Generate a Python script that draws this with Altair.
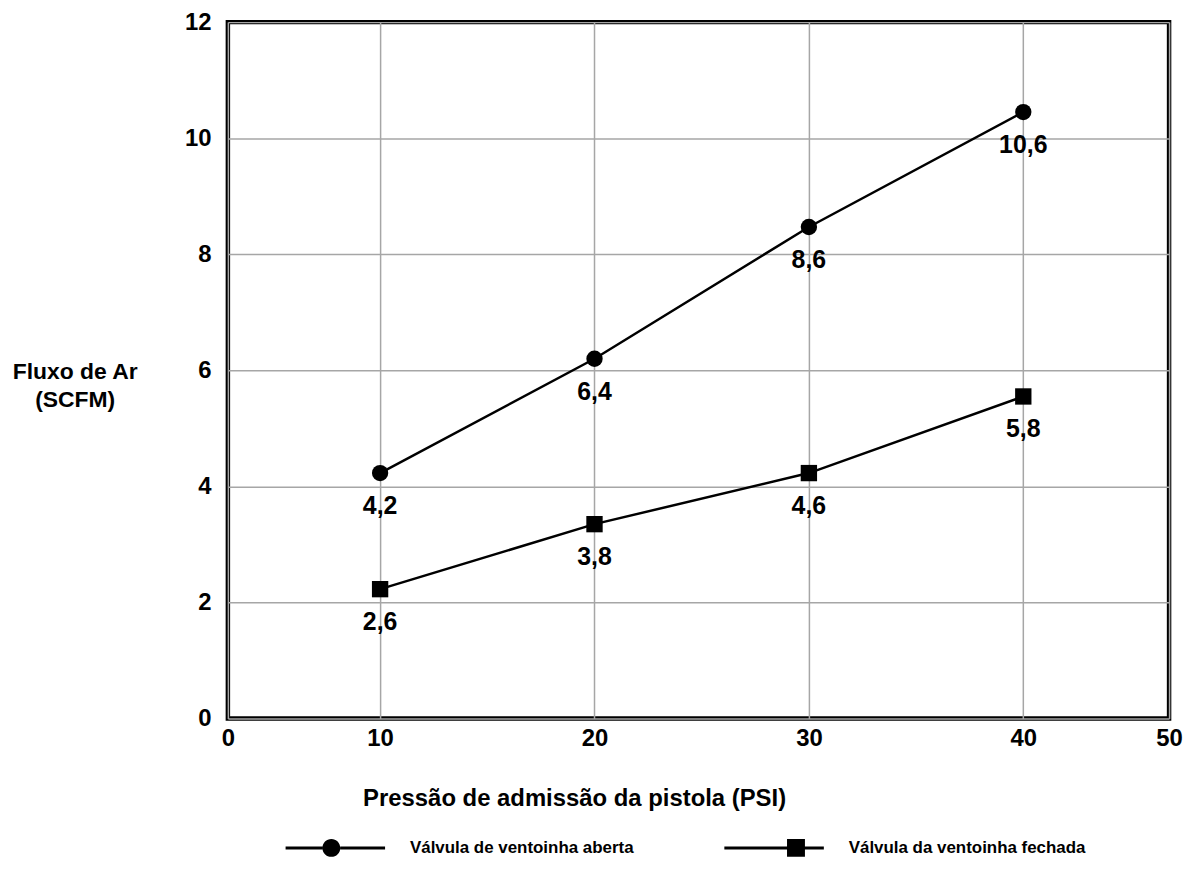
import altair as alt
import pandas as pd

# ---- data ----
pressao = [10, 20, 30, 40]
aberta_vals = [4.23, 6.2, 8.47, 10.45]
fechada_vals = [2.23, 3.35, 4.23, 5.55]
aberta_labels = ["4,2", "6,4", "8,6", "10,6"]
fechada_labels = ["2,6", "3,8", "4,6", "5,8"]
series_names = ["Válvula de ventoinha aberta", "Válvula da ventoinha fechada"]

x_tick_values = [2.9, 10, 20, 30, 40, 46.8]
x_tick_labels = ["0", "10", "20", "30", "40", "50"]
y_tick_values = [0, 2, 4, 6, 8, 10, 12]

x_title = "Pressão de admissão da pistola (PSI)"
y_title = ["Fluxo de Ar", "(SCFM)"]

rows = []
for s, vals, labs in [(series_names[0], aberta_vals, aberta_labels),
                      (series_names[1], fechada_vals, fechada_labels)]:
    for x, v, l in zip(pressao, vals, labs):
        rows.append({"pressao": x, "fluxo": v, "rotulo": l, "serie": s})
df = pd.DataFrame(rows)

FONT = "Liberation Sans"

label_expr = ""
for v, l in zip(x_tick_values, x_tick_labels):
    label_expr += f"datum.value == {v} ? '{l}' : "
label_expr += "datum.label"

x_enc = alt.X(
    "pressao:Q",
    scale=alt.Scale(domain=[x_tick_values[0], x_tick_values[-1]], nice=False, zero=False),
    axis=alt.Axis(
        values=x_tick_values, labelExpr=label_expr, labelFlush=False,
        grid=True, gridColor="#a6a6a6", gridWidth=1.5,
        domain=False, ticks=False,
        labelFontSize=24, labelFontWeight="bold", labelFont=FONT, labelColor="black",
        labelPadding=8,
        title=x_title, titleFontSize=24, titleFontWeight="bold", titleFont=FONT,
        titleColor="black", titleX=348, titleY=80, titleAlign="center",
        titleBaseline="middle", titleAnchor="start",
    ),
)
y_enc = alt.Y(
    "fluxo:Q",
    scale=alt.Scale(domain=[0, 12], nice=False),
    axis=alt.Axis(
        values=y_tick_values, format="d", grid=True, gridColor="#a6a6a6", gridWidth=1.5,
        domain=False, ticks=False,
        labelFontSize=24, labelFontWeight="bold", labelFont=FONT, labelColor="black",
        labelPadding=17,
        title=y_title, titleAngle=0, titleFontSize=23, titleFontWeight="bold",
        titleFont=FONT, titleColor="black", titleX=-154, titleY=351,
        titleAlign="center", titleBaseline="middle", titleLineHeight=28,
    ),
)

base = alt.Chart(df)

lines = base.mark_line(color="black", strokeWidth=2.5).encode(
    x=x_enc, y=y_enc, detail="serie:N"
)

points = base.mark_point(filled=True, color="black", opacity=1, size=270).encode(
    x="pressao:Q", y="fluxo:Q",
    shape=alt.Shape("serie:N", scale=alt.Scale(domain=series_names, range=["circle", "square"]),
                    legend=None),
)

labels = base.mark_text(dy=33, fontSize=25, fontWeight="bold", font=FONT, color="black").encode(
    x="pressao:Q", y="fluxo:Q", text="rotulo:N"
)

path_open = ("M-1,-0.03L-0.26,-0.03L-0.26,0.03L-1,0.03Z "
             "M0.1,-0.03L1,-0.03L1,0.03L0.1,0.03Z "
             "M-0.26,0A0.18,0.18,0,1,1,0.1,0A0.18,0.18,0,1,1,-0.26,0Z")
path_closed = ("M-1,-0.03L0.26,-0.03L0.26,0.03L-1,0.03Z "
               "M0.62,-0.03L1,-0.03L1,0.03L0.62,0.03Z "
               "M0.26,-0.18L0.62,-0.18L0.62,0.18L0.26,0.18Z")

legend_layer = base.mark_point(filled=True, color="black", opacity=0, size=10).encode(
    x="pressao:Q", y="fluxo:Q",
    shape=alt.Shape(
        "serie:N",
        scale=alt.Scale(domain=series_names, range=[path_open, path_closed]),
        legend=alt.Legend(
            title=None, orient="none", legendX=58, legendY=780, direction="horizontal",
            columns=2, columnPadding=91, symbolSize=10000, symbolOpacity=1,
            symbolFillColor="black", symbolStrokeWidth=0, labelOffset=25,
            labelFontSize=17, labelFontWeight="bold", labelFont=FONT, labelColor="black",
            labelLimit=500, padding=0,
        ),
    ),
)

chart = (
    alt.layer(lines, points, labels, legend_layer)
    .resolve_scale(shape="independent")
    .properties(
        width=946, height=700,
        autosize=alt.AutoSizeParams(type="none"),
        padding={"left": 221, "top": 12, "right": 16, "bottom": 150},
    )
    .configure_view(stroke="black", strokeWidth=4.5)
)

chart.save("out.html", embed_options={"renderer": "svg", "actions": False})
